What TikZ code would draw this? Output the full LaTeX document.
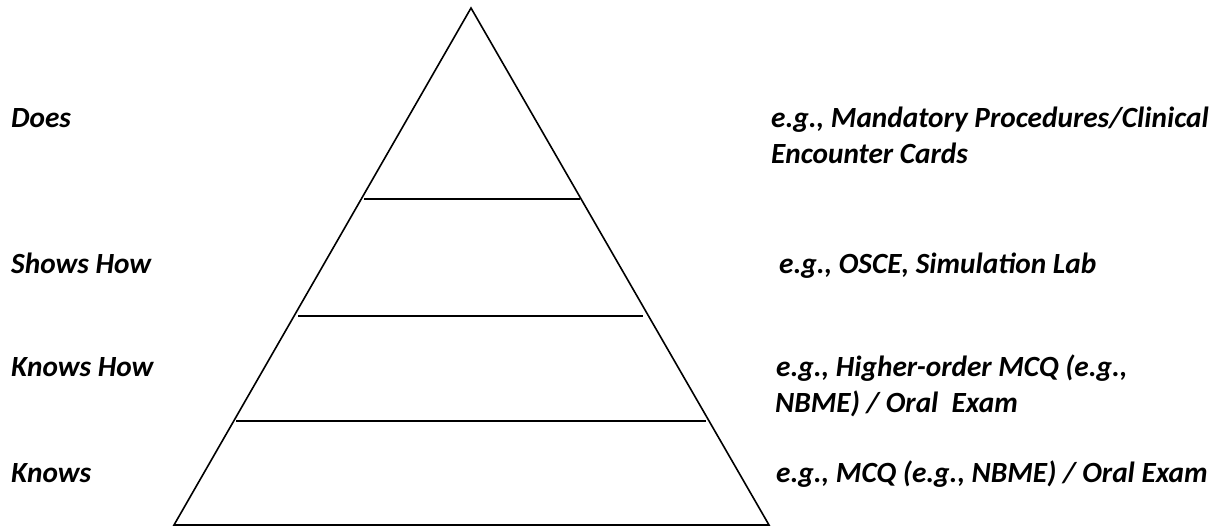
\documentclass[tikz,border=0pt]{standalone}
\usepackage{fontspec}
\setmainfont{Carlito}
\begin{document}
\begin{tikzpicture}[x=1pt,y=-1pt,
  lbl/.style={anchor=base west,inner sep=0pt,font=\fontsize{29.3}{36}\selectfont\bfseries\itshape},
  edge/.style={line width=1.6pt,line join=miter}]
\useasboundingbox (0,0) rectangle (1214,527);
\coordinate (apex) at (471,8);
\coordinate (bl) at (174,525);
\coordinate (br) at (769,525);
\draw[edge] (apex) -- (bl) -- (br) -- cycle;
\coordinate (l1a) at (364,199); \coordinate (l1b) at (580,199);
\coordinate (l2a) at (298,316); \coordinate (l2b) at (643,316);
\coordinate (l3a) at (236,421); \coordinate (l3b) at (706,421);
\draw[edge] (l1a) -- (l1b);
\draw[edge] (l2a) -- (l2b);
\draw[edge] (l3a) -- (l3b);
\node[lbl] (does) at (11,127) {Does};
\node[lbl] (shows) at (11,273) {Shows How};
\node[lbl] (knowshow) at (11,376) {Knows How};
\node[lbl] (knows) at (11,482) {Knows};
\node[lbl] (r1a) at (771,127) {e.g., Mandatory Procedures/Clinical};
\node[lbl] (r1b) at (771,163) {Encounter Cards};
\node[lbl] (r2) at (779,273) {e.g., OSCE, Simulation Lab};
\node[lbl] (r3a) at (776,376) {e.g., Higher-order MCQ (e.g.,};
\node[lbl] (r3b) at (775,412) {NBME) / Oral\ \ Exam};
\node[lbl] (r4) at (776,482) {e.g., MCQ (e.g., NBME) / Oral Exam};
\end{tikzpicture}
\end{document}
